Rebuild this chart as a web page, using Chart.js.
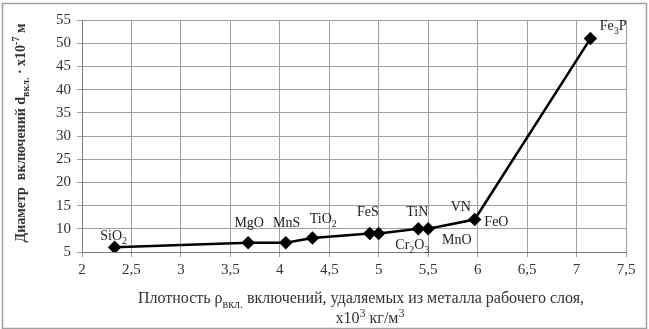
<!DOCTYPE html>
<html>
<head>
<meta charset="utf-8">
<script src="https://cdn.jsdelivr.net/npm/chart.js@4/dist/chart.umd.min.js"></script>
<style>
  html, body { margin: 0; padding: 0; background: #fff; }
  #wrap { width: 649px; height: 329px; }
</style>
</head>
<body>
<div id="wrap"><canvas id="myChart" width="649" height="329"></canvas></div>
<script>
// density of inclusions, x10^3 kg/m3
var density = [2.33, 3.68, 4.06, 4.33, 4.91, 5.0, 5.40, 5.50, 5.97, 7.14];
// diameter of removed inclusions, x10^-7 m
var diameter = [6, 7, 7, 8, 9, 9, 10, 10, 12, 51];
// point labels: _{..} subscript, ^{..} superscript; x/y is where the label sits in data units
var labelText = ['SiO_{2}', 'MgO', 'MnS', 'TiO_{2}', 'FeS', 'TiN', 'Cr_{2}O_{3}', 'VN', 'FeO', 'MnO', 'Fe_{3}P'];
var labelX = [2.32, 3.69, 4.07, 4.44, 4.89, 5.39, 5.34, 5.83, 6.19, 5.79, 7.37];
var labelY = [8.7, 11.5, 11.5, 12.3, 13.8, 13.8, 6.7, 14.9, 11.7, 7.8, 53.9];
var yTicks = [5, 10, 15, 20, 25, 30, 35, 40, 45, 50, 55];
var xTicks = [2, 2.5, 3, 3.5, 4, 4.5, 5, 5.5, 6, 6.5, 7, 7.5];

var serif = '"Liberation Serif", "DejaVu Serif", serif';

// draw text with _{sub} and ^{sup} pieces
function richText(ctx, str, x, y, size, weight, align) {
    var parts = [];
    var re = /([_^])\{([^}]*)\}|([^_^]+)/g, m;
    while ((m = re.exec(str)) !== null) {
        if (m[3]) parts.push({t: m[3], k: 'n'});
        else parts.push({t: m[2], k: m[1] === '_' ? 'sub' : 'sup'});
    }
    function fontFor(k) {
        var s = k === 'n' ? size : Math.round(size * 0.72);
        return weight + ' ' + s + 'px ' + serif;
    }
    var total = 0;
    parts.forEach(function (p) { ctx.font = fontFor(p.k); p.w = ctx.measureText(p.t).width; total += p.w; });
    var cx = align === 'center' ? x - total / 2 : x;
    ctx.textAlign = 'left';
    ctx.textBaseline = 'alphabetic';
    parts.forEach(function (p) {
        ctx.font = fontFor(p.k);
        var dy = p.k === 'sub' ? size * 0.3 : (p.k === 'sup' ? -size * 0.4 : 0);
        ctx.fillText(p.t, cx, y + dy);
        cx += p.w;
    });
    return total;
}

var extras = {
    id: 'extras',
    beforeDraw: function (chart) {
        var ctx = chart.ctx;
        ctx.save();
        ctx.fillStyle = '#ffffff';
        ctx.fillRect(0, 0, chart.width, chart.height);
        ctx.strokeStyle = '#a0a0a0';
        ctx.lineWidth = 1.5;
        ctx.strokeRect(2.5, 3.5, chart.width - 5, chart.height - 4);
        ctx.restore();
    },
    afterDraw: function (chart) {
        var ctx = chart.ctx;
        var xs = chart.scales.x, ys = chart.scales.y;
        ctx.save();
        ctx.fillStyle = '#222';
        for (var i = 0; i < labelText.length; i++) {
            richText(ctx, labelText[i], xs.getPixelForValue(labelX[i]), ys.getPixelForValue(labelY[i]) + 5, 14, 'normal', 'center');
        }
        // axis titles
        ctx.fillStyle = '#333';
        richText(ctx, 'Плотность ρ_{вкл.} включений, удаляемых из металла рабочего слоя,', 361, 303, 16, 'normal', 'center');
        richText(ctx, 'x10^{3} кг/м^{3}', 370, 323, 16, 'normal', 'center');
        ctx.translate(25, 133);
        ctx.rotate(-Math.PI / 2);
        richText(ctx, 'Диаметр  включений d_{вкл.} · x10^{-7} м', 0, 0, 14, 'bold', 'center');
        ctx.restore();
    }
};

var ctx = document.getElementById('myChart').getContext('2d');
var myChart = new Chart(ctx, {
    type: 'scatter',
    data: {
        datasets: [{
            data: density.map(function (d, i) { return {x: d, y: diameter[i]}; }),
            showLine: true,
            borderColor: '#000',
            backgroundColor: '#000',
            borderWidth: 2.5,
            pointStyle: 'rectRot',
            pointRadius: 5,
            pointHoverRadius: 5
        }]
    },
    options: {
        responsive: false,
        animation: false,
        events: [],
        layout: { padding: { left: 0, right: 23, top: 20, bottom: 0 } },
        plugins: { legend: { display: false }, tooltip: { enabled: false } },
        scales: {
            x: {
                type: 'linear',
                min: 2, max: 7.5,
                afterBuildTicks: function (s) { s.ticks = xTicks.map(function (v) { return {value: v}; }); },
                afterFit: function (s) { s.height = 77; },
                grid: { color: '#a89c9c', lineWidth: 1, tickLength: 5, drawOnChartArea: true },
                border: { color: '#807878', width: 1 },
                ticks: {
                    color: '#333',
                    padding: 4,
                    maxRotation: 0,
                    font: { family: serif, size: 15 },
                    callback: function (v) { return String(v).replace('.', ','); }
                }
            },
            y: {
                min: 5, max: 55,
                afterBuildTicks: function (s) { s.ticks = yTicks.map(function (v) { return {value: v}; }); },
                afterFit: function (s) { s.width = 82; },
                grid: { color: '#a89c9c', lineWidth: 1, tickLength: 5 },
                border: { color: '#807878', width: 1 },
                ticks: {
                    color: '#333',
                    padding: 6,
                    font: { family: serif, size: 15 }
                }
            }
        }
    },
    plugins: [extras]
});
</script>
</body>
</html>
